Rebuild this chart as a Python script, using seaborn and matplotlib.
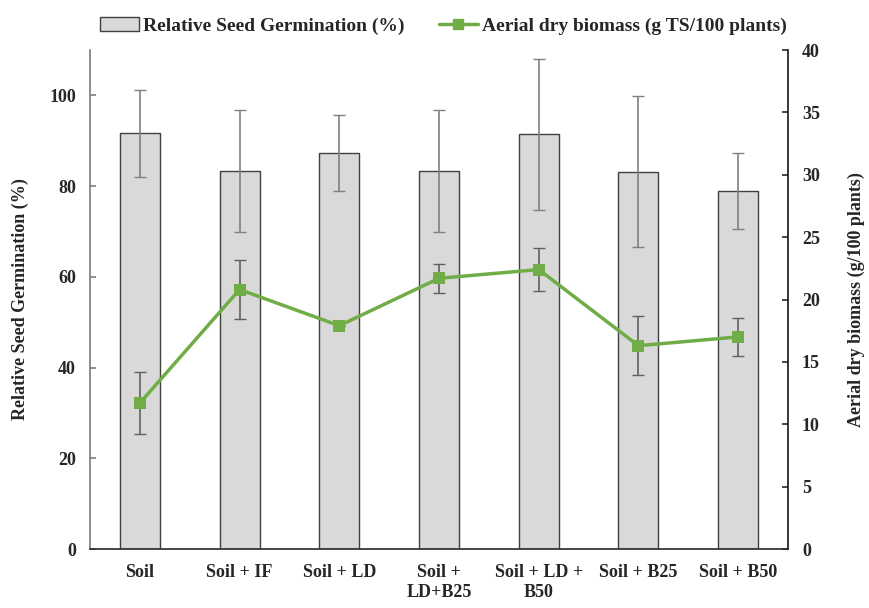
import numpy as np
import pandas as pd
import matplotlib
matplotlib.use("Agg")
import matplotlib.pyplot as plt
import seaborn as sns
from matplotlib.patches import Patch
from matplotlib.lines import Line2D

categories = ["Soil", "Soil + IF", "Soil + LD", "Soil +\nLD+B25", "Soil + LD +\nB50", "Soil + B25", "Soil + B50"]
germination = [91.6, 83.3, 87.3, 83.3, 91.4, 83.2, 79.0]
germination_err = [9.6, 13.4, 8.4, 13.4, 16.6, 16.7, 8.4]
biomass = [11.7, 20.8, 17.9, 21.7, 22.4, 16.3, 17.0]
biomass_err = [2.5, 2.35, 0.0, 1.15, 1.75, 2.35, 1.5]

sns.set_theme(style="white")
plt.rcParams['font.family'] = ['Liberation Serif', 'DejaVu Serif']
plt.rcParams['font.weight'] = 'bold'

df = pd.DataFrame({"cat": categories, "germ": germination, "bio": biomass})

fig = plt.figure(figsize=(8.69, 6.08), dpi=100)
ax = fig.add_axes([90/869, 1 - 549/608, (788-90)/869, (549-50)/608])

sns.barplot(data=df, x="cat", y="germ", ax=ax, color="#d9d9d9", width=0.4,
            edgecolor="#404040", linewidth=1.0, saturation=1, errorbar=None)
ax.errorbar(np.arange(len(categories)), germination, yerr=germination_err, fmt="none",
            ecolor="#808080", elinewidth=1.2, capsize=4, capthick=1.0, zorder=3)
ax.set_ylim(0, 110)
ax.set_xlim(-0.5, len(categories) - 0.5)
ax.set_yticks([0, 20, 40, 60, 80, 100])
ax.set_xlabel("")
ax.set_ylabel("Relative Seed Germination (%)", fontsize=13, fontweight="bold", labelpad=15)
ax.tick_params(axis="y", direction="in", length=4, labelsize=13, color="#808080", pad=10)
ax.tick_params(axis="x", length=0, labelsize=13, pad=11)
for lab in ax.get_xticklabels() + ax.get_yticklabels():
    lab.set_fontweight("bold")
ax.spines["top"].set_visible(False)
ax.spines["left"].set_color("#808080")
ax.spines["bottom"].set_color("#303030")
ax.spines["right"].set_visible(False)

ax2 = ax.twinx()
sns.lineplot(x=np.arange(len(categories)), y=biomass, ax=ax2, color="#70ad47",
             linewidth=2.5, marker="s", markersize=8, markeredgewidth=0, zorder=4)
ax2.errorbar(np.arange(len(categories)), biomass, yerr=biomass_err, fmt="none",
             ecolor="#606060", elinewidth=1.2, capsize=4, capthick=1.0, zorder=3)
ax2.set_ylim(0, 40)
ax2.set_yticks(range(0, 41, 5))
ax2.set_ylabel("Aerial dry biomass (g/100 plants)", fontsize=13, fontweight="bold", labelpad=20)
ax2.tick_params(axis="y", direction="in", length=4, labelsize=13, pad=10, color="#303030")
for lab in ax2.get_yticklabels():
    lab.set_fontweight("bold")
ax2.spines["top"].set_visible(False)
ax2.spines["left"].set_visible(False)
ax2.spines["bottom"].set_visible(False)
ax2.spines["right"].set_color("#202020")
ax2.set_xlim(-0.5, len(categories) - 0.5)

handles = [Patch(facecolor="#d9d9d9", edgecolor="#404040", linewidth=1.0),
           Line2D([0], [0], color="#70ad47", linewidth=2.5, marker="s", markersize=7)]
labels = ["Relative Seed Germination (%)", "Aerial dry biomass (g TS/100 plants)"]
fig.legend(handles, labels, loc="upper center", bbox_to_anchor=(0.51, 1.0), ncol=2,
           frameon=False, prop={"size": 14, "weight": "bold"}, columnspacing=1.8,
           handlelength=2.0, handletextpad=0.2)

fig.savefig("out.png", dpi=100)
